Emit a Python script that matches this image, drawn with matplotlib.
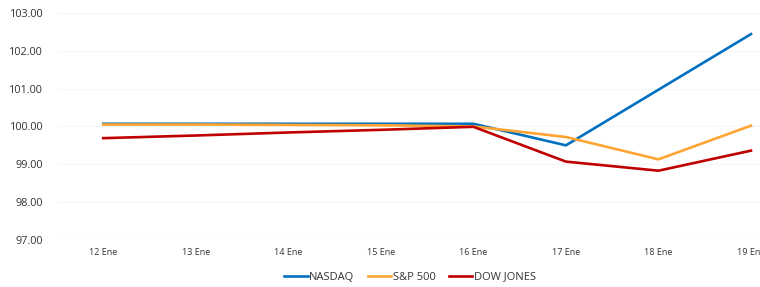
import matplotlib.pyplot as plt

# ---------------- Data ----------------
dias = ["12 Ene", "13 Ene", "14 Ene", "15 Ene", "16 Ene", "17 Ene", "18 Ene", "19 Ene"]
nasdaq = [100.07, 100.07, 100.07, 100.07, 100.07, 99.50, 100.97, 102.44]
sp500 = [100.05, 100.05, 100.04, 100.03, 100.00, 99.72, 99.13, 100.02]
dow_jones = [99.69, 99.76, 99.84, 99.91, 99.99, 99.07, 98.83, 99.36]
yticks = [97, 98, 99, 100, 101, 102, 103]
# --------------------------------------

plt.rcParams['font.family'] = ['Open Sans', 'DejaVu Sans']

fig = plt.figure(figsize=(7.6, 2.87), dpi=100)
ax = fig.add_axes([0.075, 0.164, 0.974, 0.791])

x = range(len(dias))
ax.plot(x, nasdaq, color='#0070C0', lw=1.9, label='NASDAQ')
ax.plot(x, sp500, color='#FFA533', lw=1.9, label='S&P 500')
ax.plot(x, dow_jones, color='#C00000', lw=1.9, label='DOW JONES')

ax.set_xlim(-0.5, len(dias) - 0.5)
ax.set_ylim(97, 103)
ax.set_yticks(yticks)
ax.set_yticklabels([f"{v:.2f}" for v in yticks], fontsize=7.8, color='#333333')
ax.set_xticks(list(x))
ax.set_xticklabels(dias, fontsize=6.5, color='#333333')
ax.tick_params(axis='y', length=0, pad=10)
ax.tick_params(axis='x', length=0, pad=6)

ax.grid(axis='y', color='#f6f6f6', lw=0.8)
ax.set_axisbelow(True)
for s in ax.spines.values():
    s.set_visible(False)

fig.legend(loc='center', bbox_to_anchor=(410 / 760, 1 - 277 / 287), ncol=3,
           frameon=False, fontsize=8, handlelength=2.1, handletextpad=0.15,
           columnspacing=1.2, labelcolor='#333333')

fig.savefig("out.png", dpi=100)
